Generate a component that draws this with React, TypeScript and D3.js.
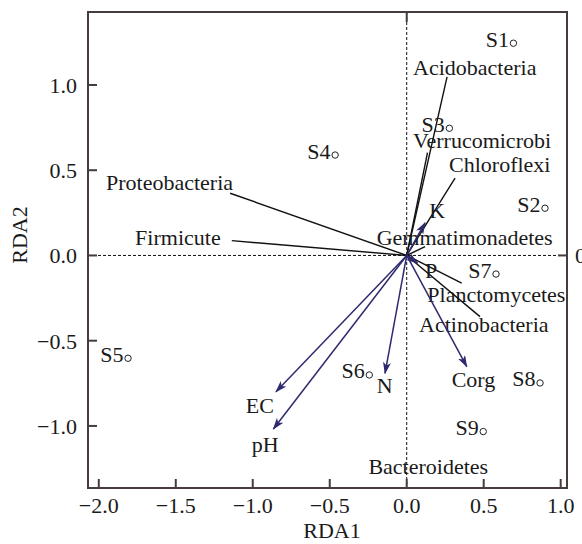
import { useEffect, useRef } from 'react';
import * as d3 from 'd3';

// sample scores (circle position)
const sites = ['S1', 'S2', 'S3', 'S4', 'S5', 'S6', 'S7', 'S8', 'S9'];
const siteX = [0.693, 0.898, 0.277, -0.465, -1.81, -0.243, 0.58, 0.866, 0.497];
const siteY = [1.245, 0.277, 0.746, 0.589, -0.603, -0.701, -0.109, -0.748, -1.033];

// bacterial phyla (plain lines)
const phyla = ['Acidobacteria', 'Verrucomicrobi', 'Chloroflexi', 'Gemmatimonadetes', 'Proteobacteria',
  'Firmicute', 'Planctomycetes', 'Actinobacteria', 'Bacteroidetes'];
const phylaX = [0.262, 0.135, 0.314, 0.119, -1.147, -1.136, 0.357, 0.476, 0.0];
const phylaY = [1.047, 0.603, 0.453, 0.052, 0.365, 0.087, -0.163, -0.359, -0.01];
const phylaLabelX = [0.041, 0.041, 0.275, -0.195, -1.953, -1.764, 0.134, 0.08, -0.249];
const phylaLabelY = [1.059, 0.629, 0.491, 0.062, 0.384, 0.062, -0.271, -0.447, -1.283];

// soil properties (arrows)
const envs = ['K', 'P', 'N', 'Corg', 'EC', 'pH'];
const envX = [0.119, 0.07, -0.141, 0.39, -0.849, -0.866];
const envY = [0.191, -0.045, -0.691, -0.652, -0.799, -1.018];
const envLabelX = [0.147, 0.119, -0.195, 0.292, -1.045, -1.006];
const envLabelY = [0.22, -0.132, -0.808, -0.77, -0.926, -1.151];

const xTicks = [-2.0, -1.5, -1.0, -0.5, 0.0, 0.5, 1.0];
const yTicks = [-1.0, -0.5, 0.0, 0.5, 1.0];

export default function App() {
  const svgRef = useRef(null);

  useEffect(() => {
    const width = 582;
    const height = 544;
    const margin = { top: 12, right: 15, bottom: 56, left: 88 };
    const frame = '#463c3c';
    const arrowCol = '#2e2a6e';
    const font = '"Liberation Serif", "Times New Roman", serif';

    const svg = d3.select(svgRef.current)
      .attr('width', width)
      .attr('height', height);
    svg.selectAll('*').remove();

    const x = d3.scaleLinear().domain([-2.07, 1.041]).range([margin.left, width - margin.right]);
    const y = d3.scaleLinear().domain([-1.364, 1.428]).range([height - margin.bottom, margin.top]);
    const [x0, x1] = x.range();
    const [y0, y1] = y.range();
    const fmt = d3.format('.1f');

    svg.append('defs').append('marker')
      .attr('id', 'arr')
      .attr('viewBox', '0 0 12 8')
      .attr('refX', 11)
      .attr('refY', 4)
      .attr('markerWidth', 12)
      .attr('markerHeight', 8)
      .attr('markerUnits', 'userSpaceOnUse')
      .attr('orient', 'auto')
      .append('path')
      .attr('d', 'M0,0 L12,4 L0,8 L3,4 Z')
      .attr('fill', arrowCol);

    // zero lines
    svg.append('line')
      .attr('x1', x(0)).attr('x2', x(0)).attr('y1', y1).attr('y2', y0)
      .attr('stroke', '#111').attr('stroke-width', 1).attr('stroke-dasharray', '3,2');
    svg.append('line')
      .attr('x1', x0).attr('x2', x1).attr('y1', y(0)).attr('y2', y(0))
      .attr('stroke', '#111').attr('stroke-width', 1).attr('stroke-dasharray', '3,2');

    // phyla lines
    phyla.forEach((p, i) => {
      svg.append('line')
        .attr('x1', x(0)).attr('y1', y(0))
        .attr('x2', x(phylaX[i])).attr('y2', y(phylaY[i]))
        .attr('stroke', '#111').attr('stroke-width', 1.4);
      svg.append('text')
        .attr('x', x(phylaLabelX[i])).attr('y', y(phylaLabelY[i]))
        .attr('font-family', font).attr('font-size', 22).attr('fill', '#1a1a1a')
        .text(p);
    });

    // env arrows
    envs.forEach((e, i) => {
      svg.append('line')
        .attr('x1', x(0)).attr('y1', y(0))
        .attr('x2', x(envX[i])).attr('y2', y(envY[i]))
        .attr('stroke', arrowCol).attr('stroke-width', 1.5)
        .attr('marker-end', 'url(#arr)');
      svg.append('text')
        .attr('x', x(envLabelX[i])).attr('y', y(envLabelY[i]))
        .attr('font-family', font).attr('font-size', 22).attr('fill', '#1a1a1a')
        .text(e);
    });

    // sites
    sites.forEach((s, i) => {
      const cx = x(siteX[i]);
      const cy = y(siteY[i]);
      svg.append('circle')
        .attr('cx', cx).attr('cy', cy).attr('r', 3.2)
        .attr('fill', 'white').attr('stroke', '#222').attr('stroke-width', 1);
      svg.append('text')
        .attr('x', cx - 4.5).attr('y', cy + 3.5)
        .attr('text-anchor', 'end')
        .attr('font-family', font).attr('font-size', 22).attr('fill', '#1a1a1a')
        .text(s);
    });

    // frame
    svg.append('rect')
      .attr('x', x0).attr('y', y1)
      .attr('width', x1 - x0).attr('height', y0 - y1)
      .attr('fill', 'none').attr('stroke', frame).attr('stroke-width', 2);

    // bottom ticks (inward)
    xTicks.forEach(t => {
      svg.append('line')
        .attr('x1', x(t)).attr('x2', x(t)).attr('y1', y0).attr('y2', y0 - 9)
        .attr('stroke', frame).attr('stroke-width', 2);
      svg.append('text')
        .attr('x', x(t)).attr('y', y0 + 25)
        .attr('text-anchor', 'middle')
        .attr('font-family', font).attr('font-size', 22).attr('fill', '#1a1a1a')
        .text(fmt(t));
    });

    // left ticks (inward)
    yTicks.forEach(t => {
      svg.append('line')
        .attr('x1', x0).attr('x2', x0 + 9).attr('y1', y(t)).attr('y2', y(t))
        .attr('stroke', frame).attr('stroke-width', 2);
      svg.append('text')
        .attr('x', x0 - 11).attr('y', y(t) + 8)
        .attr('text-anchor', 'end')
        .attr('font-family', font).attr('font-size', 22).attr('fill', '#1a1a1a')
        .text(fmt(t));
    });

    // top and right axes: only the zero tick
    svg.append('line')
      .attr('x1', x(0)).attr('x2', x(0)).attr('y1', y1).attr('y2', y1 + 10)
      .attr('stroke', frame).attr('stroke-width', 2);
    svg.append('line')
      .attr('x1', x1).attr('x2', x1 - 9).attr('y1', y(0)).attr('y2', y(0))
      .attr('stroke', frame).attr('stroke-width', 2);
    svg.append('text')
      .attr('x', x1 + 8).attr('y', y(0) + 8)
      .attr('font-family', font).attr('font-size', 22).attr('fill', '#1a1a1a')
      .text(fmt(0));

    // axis titles
    svg.append('text')
      .attr('x', 332).attr('y', 538)
      .attr('text-anchor', 'middle')
      .attr('font-family', font).attr('font-size', 22).attr('fill', '#1a1a1a')
      .text('RDA1');
    svg.append('text')
      .attr('transform', `translate(27,${(y0 + y1) / 2 - 15}) rotate(-90)`)
      .attr('text-anchor', 'middle')
      .attr('font-family', font).attr('font-size', 22).attr('fill', '#1a1a1a')
      .text('RDA2');
  }, []);

  return (
    <div style={{ position: 'absolute', left: 0, top: 0, width: 582, height: 544, overflow: 'hidden', background: 'white' }}>
      <svg ref={svgRef}></svg>
    </div>
  );
}
